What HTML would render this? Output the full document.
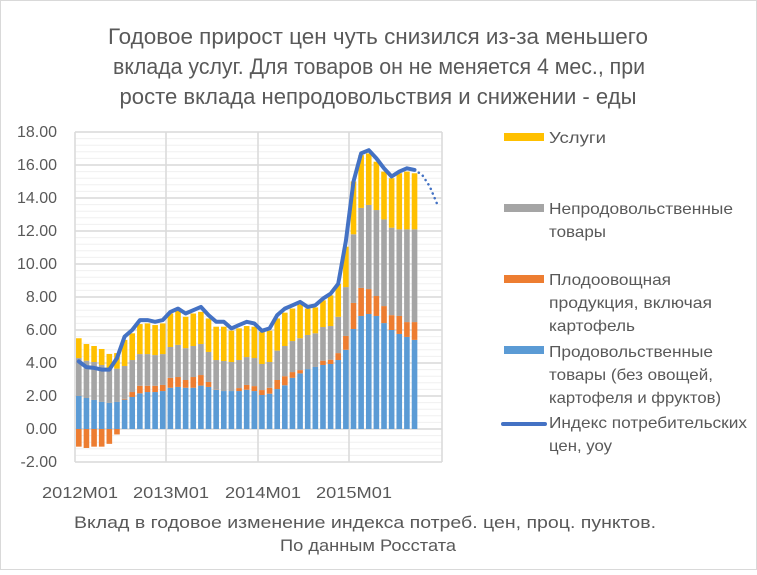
<!DOCTYPE html>
<html><head><meta charset="utf-8"><style>
html,body{margin:0;padding:0;background:#fff}
svg text{font-family:"Liberation Sans","DejaVu Sans",sans-serif;fill:#595959}
</style></head><body>
<svg id="c" width="757" height="570" xmlns="http://www.w3.org/2000/svg">
<rect x="0.5" y="0.5" width="756" height="569" fill="#fff" stroke="#d9d9d9"/>
<g font-size="22" text-anchor="middle" lengthAdjust="spacingAndGlyphs">
<text x="378" y="44" textLength="540" lengthAdjust="spacingAndGlyphs">Годовое прирост цен чуть снизился из-за меньшего</text>
<text x="379" y="74" textLength="532" lengthAdjust="spacingAndGlyphs">вклада услуг. Для товаров он не меняется 4 мес., при</text>
<text x="378" y="104" textLength="517" lengthAdjust="spacingAndGlyphs">росте вклада непродовольствия и снижении - еды</text>
</g>
<g id="grid"></g><g id="bars"></g><g id="ln"></g>
<g font-size="16">
<text x="80" y="498" text-anchor="middle" textLength="76" lengthAdjust="spacingAndGlyphs">2012M01</text>
<text x="171" y="498" text-anchor="middle" textLength="76" lengthAdjust="spacingAndGlyphs">2013M01</text>
<text x="263" y="498" text-anchor="middle" textLength="76" lengthAdjust="spacingAndGlyphs">2014M01</text>
<text x="354" y="498" text-anchor="middle" textLength="76" lengthAdjust="spacingAndGlyphs">2015M01</text>
</g>
<text x="365" y="528" font-size="17" text-anchor="middle" textLength="582" lengthAdjust="spacingAndGlyphs">Вклад в годовое изменение  индекса потреб. цен, проц. пунктов.</text>
<text x="368" y="551" font-size="17" text-anchor="middle" textLength="176" lengthAdjust="spacingAndGlyphs">По данным Росстата</text>
<g font-size="16">
<rect x="504" y="133" width="40" height="8" fill="#FFC000"/>
<text x="549" y="143" textLength="57" lengthAdjust="spacingAndGlyphs">Услуги</text>
<rect x="504" y="204" width="40" height="8" fill="#A5A5A5"/>
<text x="549" y="214" textLength="184" lengthAdjust="spacingAndGlyphs">Непродовольственные</text><text x="549" y="237" textLength="57" lengthAdjust="spacingAndGlyphs">товары</text>
<rect x="504" y="275" width="40" height="8" fill="#ED7D31"/>
<text x="549" y="285" textLength="122" lengthAdjust="spacingAndGlyphs">Плодоовощная</text><text x="549" y="308" textLength="163" lengthAdjust="spacingAndGlyphs">продукция, включая</text><text x="549" y="331" textLength="86" lengthAdjust="spacingAndGlyphs">картофель</text>
<rect x="504" y="346" width="40" height="8" fill="#5B9BD5"/>
<text x="549" y="357" textLength="164" lengthAdjust="spacingAndGlyphs">Продовольственные</text><text x="549" y="380" textLength="164" lengthAdjust="spacingAndGlyphs">товары (без овощей,</text><text x="549" y="403" textLength="172" lengthAdjust="spacingAndGlyphs">картофеля и фруктов)</text>
<line x1="503" y1="424" x2="545" y2="424" stroke="#4472C4" stroke-width="4" stroke-linecap="round"/>
<text x="549" y="428" textLength="198" lengthAdjust="spacingAndGlyphs">Индекс потребительских</text><text x="549" y="451" textLength="63" lengthAdjust="spacingAndGlyphs">цен, уоу</text>
</g>
</svg>
<script>
var NS="http://www.w3.org/2000/svg";
function el(p,t,a){var e=document.createElementNS(NS,t);for(var k in a)e.setAttribute(k,a[k]);document.getElementById(p).appendChild(e);return e;}
var L=75,R=442,Z=429,S=16.5,W=7.63;
function Y(v){return Z-v*S;}
for(var v=-2;v<=18.001;v+=0.4){var maj=Math.abs(v/2-Math.round(v/2))<0.01;
 el("grid","line",{x1:L,x2:R,y1:Y(v),y2:Y(v),stroke:maj?"#d9d9d9":"#f0f0f0","stroke-width":maj?1.5:1});}
[L,166,258,349,R].forEach(function(x){el("grid","line",{x1:x,x2:x,y1:Y(18),y2:Y(-2),stroke:"#d9d9d9","stroke-width":1.5});});
for(var v=-2;v<=18;v+=2){var t=el("grid","text",{x:57,y:Y(v)+5,"font-size":16,"text-anchor":"end"});t.textContent=v.toFixed(2);}
var d=[[2.0,-1.07,4.3,5.5,4.1],[1.88,-1.15,4.14,5.15,3.75],[1.76,-1.07,4.06,5.03,3.7],[1.64,-1.07,3.88,4.85,3.6],[1.58,-0.9,3.62,4.55,3.6],
[1.64,-0.33,3.66,4.6,4.3],[1.78,0.05,3.82,5.4,5.6],[1.94,0.3,4.18,5.8,6.0],[2.16,0.46,4.54,6.36,6.6],[2.24,0.38,4.54,6.4,6.6],
[2.24,0.38,4.48,6.3,6.5],[2.3,0.37,4.54,6.4,6.6],[2.5,0.6,4.97,7.0,7.1],[2.55,0.6,5.1,7.2,7.3],[2.5,0.47,4.9,6.8,7.0],
[2.5,0.65,5.03,7.0,7.2],[2.63,0.64,5.15,7.1,7.4],[2.55,0.3,4.67,6.7,6.9],[2.38,0.02,4.18,6.2,6.5],[2.3,0,4.12,6.2,6.5],
[2.3,0,4.06,5.96,6.1],[2.3,0.18,4.18,6.1,6.3],[2.38,0.29,4.36,6.24,6.5],[2.3,0.3,4.3,6.2,6.4],[2.06,0.3,3.94,5.9,5.95],
[2.14,0.36,4.06,5.96,6.1],[2.42,0.55,4.75,6.7,6.9],[2.65,0.55,5.03,7.05,7.3],[3.1,0.35,5.33,7.3,7.5],[3.37,0.2,5.5,7.55,7.7],
[3.63,0,5.7,7.3,7.4],[3.76,0,5.8,7.37,7.5],[3.88,0.26,6.18,7.8,7.9],[3.94,0.26,6.24,8.1,8.2],[4.18,0.42,6.8,8.8,8.8],
[4.8,0.84,8.6,11.05,11.4],[6.06,1.58,11.8,15.0,15.0],[6.85,1.7,13.4,16.6,16.7],[6.97,1.51,13.58,16.7,16.9],[6.85,1.21,13.27,16.2,16.4],
[6.42,1.03,12.7,15.6,15.8],[6.0,0.9,12.2,15.2,15.3],[5.76,1.09,12.1,15.5,15.6],[5.58,0.9,12.1,15.6,15.8],[5.4,1.08,12.1,15.5,15.7]];
var pts=[];
d.forEach(function(r,i){var cx=L+W*(i+0.5),x=cx-2.8,w=5.6;
 el("bars","rect",{x:x,y:Y(r[0]),width:w,height:r[0]*S,fill:"#5B9BD5"});
 var base=r[0];
 if(r[1]<0){el("bars","rect",{x:x,y:Z,width:w,height:-r[1]*S,fill:"#ED7D31"});}
 else if(r[1]>0){el("bars","rect",{x:x,y:Y(r[0]+r[1]),width:w,height:r[1]*S,fill:"#ED7D31"});base=r[0]+r[1];}
 el("bars","rect",{x:x,y:Y(r[2]),width:w,height:(r[2]-base)*S,fill:"#A5A5A5"});
 el("bars","rect",{x:x,y:Y(r[3]),width:w,height:(r[3]-r[2])*S,fill:"#FFC000"});
 pts.push(cx.toFixed(1)+","+Y(r[4]).toFixed(1));});
el("ln","polyline",{points:pts.join(" "),fill:"none",stroke:"#4472C4","stroke-width":4,"stroke-linejoin":"round","stroke-linecap":"round"});
var dp=[[44,15.7],[45,15.4],[46,14.7],[47,13.6]].map(function(p){return (L+W*(p[0]+0.5)).toFixed(1)+","+Y(p[1]).toFixed(1);});
el("ln","polyline",{points:dp.join(" "),fill:"none",stroke:"#4472C4","stroke-width":2.5,"stroke-dasharray":"0.1 5","stroke-linecap":"round"});
</script>
</body></html>
